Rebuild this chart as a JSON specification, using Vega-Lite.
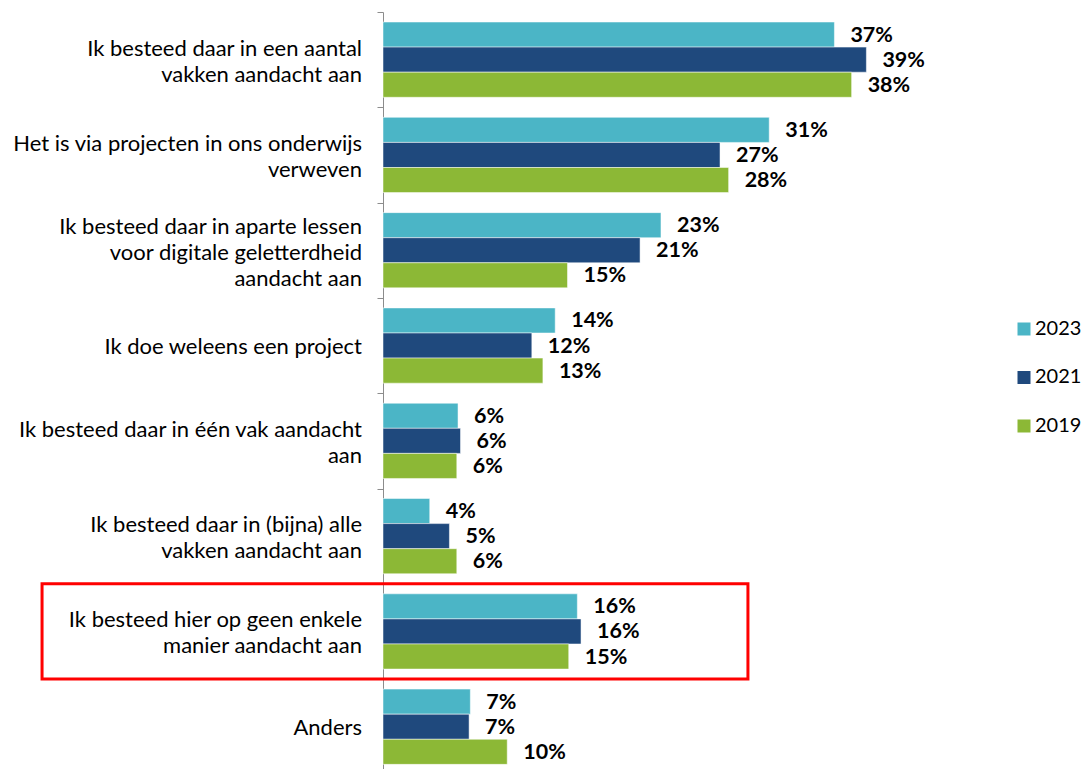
{
  "$schema": "https://vega.github.io/schema/vega-lite/v6.json",
  "width": 615,
  "height": 762.4,
  "autosize": {"type": "none"},
  "padding": {"left": 383, "top": 12, "right": 86, "bottom": 0},
  "background": "#ffffff",
  "config": {
    "view": {"stroke": null},
    "font": "Lato",
    "axis": {
      "title": null,
      "domainColor": "#8c8c8c",
      "tickColor": "#8c8c8c",
      "tickSize": 6,
      "tickBand": "extent",
      "labels": false
    }
  },
  "datasets": {
    "bars": [
      {"category": "Ik besteed daar in een aantal\nvakken aandacht aan", "year": "2023", "value": 0.367},
      {"category": "Ik besteed daar in een aantal\nvakken aandacht aan", "year": "2021", "value": 0.393},
      {"category": "Ik besteed daar in een aantal\nvakken aandacht aan", "year": "2019", "value": 0.381},
      {"category": "Het is via projecten in ons onderwijs\nverweven", "year": "2023", "value": 0.314},
      {"category": "Het is via projecten in ons onderwijs\nverweven", "year": "2021", "value": 0.274},
      {"category": "Het is via projecten in ons onderwijs\nverweven", "year": "2019", "value": 0.281},
      {"category": "Ik besteed daar in aparte lessen\nvoor digitale geletterdheid\naandacht aan", "year": "2023", "value": 0.226},
      {"category": "Ik besteed daar in aparte lessen\nvoor digitale geletterdheid\naandacht aan", "year": "2021", "value": 0.209},
      {"category": "Ik besteed daar in aparte lessen\nvoor digitale geletterdheid\naandacht aan", "year": "2019", "value": 0.150},
      {"category": "Ik doe weleens een project", "year": "2023", "value": 0.140},
      {"category": "Ik doe weleens een project", "year": "2021", "value": 0.121},
      {"category": "Ik doe weleens een project", "year": "2019", "value": 0.130},
      {"category": "Ik besteed daar in één vak aandacht\naan", "year": "2023", "value": 0.061},
      {"category": "Ik besteed daar in één vak aandacht\naan", "year": "2021", "value": 0.063},
      {"category": "Ik besteed daar in één vak aandacht\naan", "year": "2019", "value": 0.060},
      {"category": "Ik besteed daar in (bijna) alle\nvakken aandacht aan", "year": "2023", "value": 0.038},
      {"category": "Ik besteed daar in (bijna) alle\nvakken aandacht aan", "year": "2021", "value": 0.054},
      {"category": "Ik besteed daar in (bijna) alle\nvakken aandacht aan", "year": "2019", "value": 0.060},
      {"category": "Ik besteed hier op geen enkele\nmanier aandacht aan", "year": "2023", "value": 0.158},
      {"category": "Ik besteed hier op geen enkele\nmanier aandacht aan", "year": "2021", "value": 0.161},
      {"category": "Ik besteed hier op geen enkele\nmanier aandacht aan", "year": "2019", "value": 0.151},
      {"category": "Anders", "year": "2023", "value": 0.071},
      {"category": "Anders", "year": "2021", "value": 0.070},
      {"category": "Anders", "year": "2019", "value": 0.101}
    ],
    "categories": [
      {"category": "Ik besteed daar in een aantal\nvakken aandacht aan"},
      {"category": "Het is via projecten in ons onderwijs\nverweven"},
      {"category": "Ik besteed daar in aparte lessen\nvoor digitale geletterdheid\naandacht aan"},
      {"category": "Ik doe weleens een project"},
      {"category": "Ik besteed daar in één vak aandacht\naan"},
      {"category": "Ik besteed daar in (bijna) alle\nvakken aandacht aan"},
      {"category": "Ik besteed hier op geen enkele\nmanier aandacht aan"},
      {"category": "Anders"}
    ],
    "highlight": [
      {"category": "Ik besteed hier op geen enkele\nmanier aandacht aan", "x1": -0.2772, "x2": 0.2967}
    ]
  },
  "layer": [
    {
      "data": {"name": "bars"},
      "mark": {"type": "bar", "stroke": "#ffffff", "strokeOpacity": 0.5, "strokeWidth": 1},
      "encoding": {
        "y": {
          "field": "category", "type": "nominal", "sort": null,
          "scale": {
            "domain": [
              "Ik besteed daar in een aantal\nvakken aandacht aan",
              "Het is via projecten in ons onderwijs\nverweven",
              "Ik besteed daar in aparte lessen\nvoor digitale geletterdheid\naandacht aan",
              "Ik doe weleens een project",
              "Ik besteed daar in één vak aandacht\naan",
              "Ik besteed daar in (bijna) alle\nvakken aandacht aan",
              "Ik besteed hier op geen enkele\nmanier aandacht aan",
              "Anders"
            ],
            "paddingInner": 0, "paddingOuter": 0
          }
        },
        "yOffset": {
          "field": "year", "type": "nominal", "sort": ["2023", "2021", "2019"],
          "scale": {"domain": ["2023", "2021", "2019"], "paddingInner": 0, "paddingOuter": 0.4}
        },
        "x": {"field": "value", "type": "quantitative", "scale": {"domain": [0, 0.5]}, "axis": null},
        "color": {
          "field": "year", "type": "nominal", "sort": ["2023", "2021", "2019"],
          "scale": {"domain": ["2023", "2021", "2019"], "range": ["#4BB5C6", "#1F497D", "#8CB836"]},
          "legend": {
            "orient": "none", "legendX": 631, "legendY": 307, "title": null,
            "symbolType": "square", "symbolSize": 169, "symbolStrokeWidth": 0,
            "labelFontSize": 20, "labelFont": "Lato", "labelColor": "#000000",
            "labelOffset": 1, "rowPadding": 28.5, "padding": 0
          }
        }
      }
    },
    {
      "data": {"name": "bars"},
      "mark": {"type": "text", "align": "left", "baseline": "middle", "dx": 16, "dy": 1, "fontSize": 21.5, "fontWeight": "bold", "font": "Lato", "color": "#000000"},
      "encoding": {
        "y": {"field": "category", "type": "nominal", "sort": null},
        "yOffset": {"field": "year", "type": "nominal", "sort": ["2023", "2021", "2019"]},
        "x": {"field": "value", "type": "quantitative"},
        "text": {"field": "value", "type": "quantitative", "format": ".0%"}
      }
    },
    {
      "data": {"name": "categories"},
      "transform": [{"filter": "indexof(datum.category, '\\n') < 0"}],
      "mark": {"type": "text", "align": "right", "baseline": "middle", "dx": -21, "dy": 1, "fontSize": 22, "font": "Lato", "color": "#000000", "lineBreak": "\n", "lineHeight": 26},
      "encoding": {
        "y": {"field": "category", "type": "nominal", "sort": null},
        "x": {"datum": 0, "type": "quantitative"},
        "text": {"field": "category", "type": "nominal"}
      }
    },
    {
      "data": {"name": "categories"},
      "transform": [{"filter": "length(split(datum.category, '\\n')) == 2"}],
      "mark": {"type": "text", "align": "right", "baseline": "middle", "dx": -21, "dy": -11, "fontSize": 22, "font": "Lato", "color": "#000000", "lineBreak": "\n", "lineHeight": 26},
      "encoding": {
        "y": {"field": "category", "type": "nominal", "sort": null},
        "x": {"datum": 0, "type": "quantitative"},
        "text": {"field": "category", "type": "nominal"}
      }
    },
    {
      "data": {"name": "categories"},
      "transform": [{"filter": "length(split(datum.category, '\\n')) == 3"}],
      "mark": {"type": "text", "align": "right", "baseline": "middle", "dx": -21, "dy": -23, "fontSize": 22, "font": "Lato", "color": "#000000", "lineBreak": "\n", "lineHeight": 26},
      "encoding": {
        "y": {"field": "category", "type": "nominal", "sort": null},
        "x": {"datum": 0, "type": "quantitative"},
        "text": {"field": "category", "type": "nominal"}
      }
    },
    {
      "data": {"name": "highlight"},
      "mark": {"type": "rect", "fill": "transparent", "stroke": "#ff0000", "strokeWidth": 3},
      "encoding": {
        "y": {"field": "category", "type": "nominal", "sort": null},
        "x": {"field": "x1", "type": "quantitative"},
        "x2": {"field": "x2"}
      }
    }
  ]
}
